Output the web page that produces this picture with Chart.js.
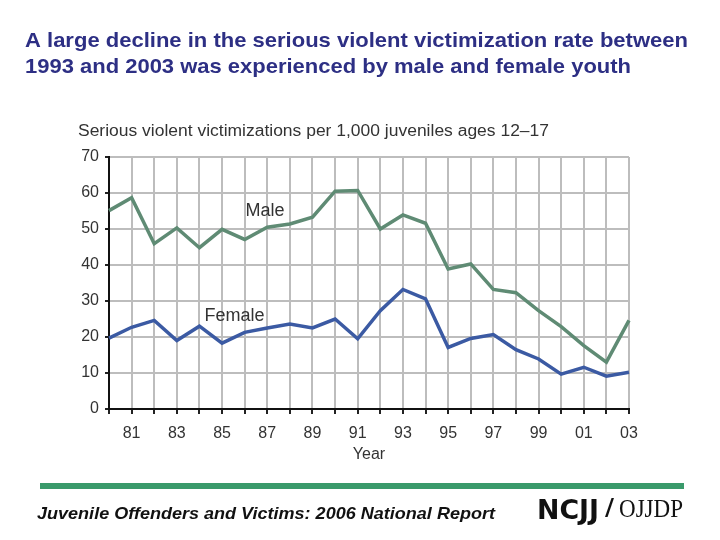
<!DOCTYPE html>
<html>
<head>
<meta charset="utf-8">
<script src="https://cdn.jsdelivr.net/npm/chart.js@4"></script>
<style>
  html, body { margin: 0; padding: 0; background: #fff; }
  #wrap { width: 720px; height: 540px; }
</style>
</head>
<body>
<div id="wrap"><canvas id="victimChart" width="720" height="540"></canvas></div>
<script>
// data
const years = [1980, 1981, 1982, 1983, 1984, 1985, 1986, 1987, 1988, 1989, 1990, 1991,
               1992, 1993, 1994, 1995, 1996, 1997, 1998, 1999, 2000, 2001, 2002, 2003];
const male = [55.1, 58.7, 45.9, 50.3, 44.8, 49.9, 47.1, 50.5, 51.4, 53.3, 60.5, 60.7,
              50.0, 53.9, 51.6, 38.9, 40.3, 33.2, 32.3, 27.3, 22.9, 17.6, 13.0, 24.6];
const female = [19.7, 22.7, 24.6, 19.0, 23.0, 18.3, 21.3, 22.5, 23.6, 22.5, 25.0, 19.5,
                27.3, 33.2, 30.6, 17.1, 19.6, 20.7, 16.5, 13.9, 9.7, 11.6, 9.1, 10.2];
const seriesNames = ['Male', 'Female'];
const labelIndex = [6.9, 5.55];   // where the series names sit (category index)
const labelValue = [55, 25.8];
const yTicks = [0, 10, 20, 30, 40, 50, 60, 70];

const headline = [
    'A large decline in the serious violent victimization rate between',
    '1993 and 2003 was experienced by male and female youth'
];
const axisNote = 'Serious violent victimizations per 1,000 juveniles ages 12\u201317';
const footerText = 'Juvenile Offenders and Victims: 2006 National Report';

// draw text squeezed to a given width
function fitText(ctx, text, x, y, width) {
    const w = ctx.measureText(text).width;
    ctx.save();
    ctx.translate(x, y);
    ctx.scale(width / w, 1);
    ctx.fillText(text, 0, 0);
    ctx.restore();
}

const decorations = {
    id: 'decorations',
    afterDraw(chart) {
        const { ctx, scales } = chart;
        ctx.save();
        ctx.textBaseline = 'alphabetic';
        ctx.textAlign = 'left';

        // headline
        ctx.fillStyle = '#2d2f84';
        ctx.font = 'bold 21px "Liberation Sans", Arial, sans-serif';
        fitText(ctx, headline[0], 25, 47, 663);
        fitText(ctx, headline[1], 25, 73, 606);

        // note above the plot
        ctx.fillStyle = '#333';
        ctx.font = '16px "Liberation Sans", Arial, sans-serif';
        fitText(ctx, axisNote, 78, 136, 471);

        // series names
        ctx.textAlign = 'center';
        ctx.textBaseline = 'middle';
        ctx.font = '18px "Liberation Sans", Arial, sans-serif';
        seriesNames.forEach((name, i) => {
            ctx.fillText(name, scales.x.getPixelForValue(labelIndex[i]), scales.y.getPixelForValue(labelValue[i]));
        });

        // footer bar
        ctx.fillStyle = '#3a9a6b';
        ctx.fillRect(40, 483, 644, 6);

        ctx.textAlign = 'left';
        ctx.textBaseline = 'alphabetic';
        ctx.fillStyle = '#111';
        ctx.font = 'italic bold 17px "Liberation Sans", Arial, sans-serif';
        fitText(ctx, footerText, 37, 519, 458);

        // logo
        ctx.font = 'bold 26px "DejaVu Sans", sans-serif';
        fitText(ctx, 'NCJJ', 537, 519, 62);
        ctx.font = '26px "Liberation Sans", sans-serif';
        fitText(ctx, '/', 605, 517, 9);
        ctx.font = '26px "Liberation Serif", serif';
        fitText(ctx, 'OJJDP', 619, 517, 64);
        ctx.restore();
    }
};

const config = {
    type: 'line',
    data: {
        labels: years,
        datasets: [{
            label: seriesNames[0],
            data: male,
            borderColor: '#5f8b74',
            borderWidth: 3.5,
            pointRadius: 0,
            tension: 0,
            clip: false
        }, {
            label: seriesNames[1],
            data: female,
            borderColor: '#3b5aa3',
            borderWidth: 3.5,
            pointRadius: 0,
            tension: 0,
            clip: false
        }]
    },
    options: {
        responsive: false,
        animation: false,
        layout: { padding: { top: 157, left: 66, right: 91, bottom: 72 } },
        plugins: {
            legend: { display: false },
            title: { display: false },
            tooltip: { enabled: false }
        },
        scales: {
            x: {
                type: 'category',
                offset: false,
                afterFit(scale) { scale.height = 59; },
                grid: { color: '#bdbdbd', lineWidth: 2, tickLength: 5, tickColor: '#222' },
                border: { color: '#111', width: 2 },
                ticks: {
                    autoSkip: false,
                    maxRotation: 0,
                    color: '#333',
                    font: { size: 16, family: '"Liberation Sans", Arial, sans-serif' },
                    padding: 10,
                    callback(value, index) {
                        const yr = years[index];
                        return yr % 2 === 1 ? String(yr).slice(2) : '';
                    }
                },
                title: {
                    display: true,
                    text: 'Year',
                    color: '#333',
                    font: { size: 16, family: '"Liberation Sans", Arial, sans-serif' },
                    padding: { top: 2 }
                }
            },
            y: {
                min: 0,
                max: 70,
                afterFit(scale) { scale.width = 43; },
                afterBuildTicks(scale) { scale.ticks = yTicks.map(v => ({ value: v })); },
                grid: { color: '#bdbdbd', lineWidth: 2, tickLength: 4, tickColor: '#222' },
                border: { color: '#111', width: 2 },
                ticks: {
                    color: '#333',
                    font: { size: 16, family: '"Liberation Sans", Arial, sans-serif' },
                    padding: 6
                }
            }
        }
    },
    plugins: [decorations]
};

const myChart = new Chart(document.getElementById('victimChart'), config);
</script>
</body>
</html>
